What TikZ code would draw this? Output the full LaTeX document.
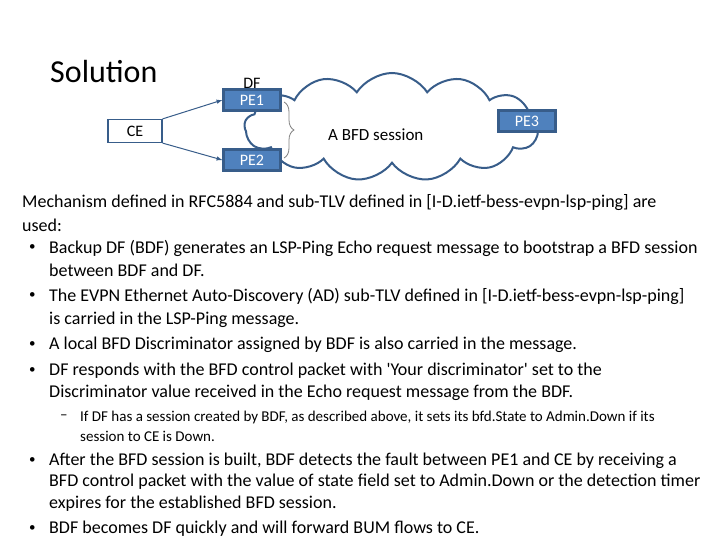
\documentclass[tikz,border=0pt]{standalone}
\usepackage{fontspec}
\setmainfont{Carlito}
\usetikzlibrary{shapes.symbols,decorations.pathreplacing}
\definecolor{pefill}{HTML}{4F81BD}
\definecolor{peline}{HTML}{385D8A}
\begin{document}
\begin{tikzpicture}[x=1pt,y=-1pt,
  pe/.style={draw=peline,line width=2.2pt,fill=pefill,text=white,minimum width=57,minimum height=21,inner sep=0,font=\fontsize{16}{18}\selectfont},
  ln/.style={anchor=west,inner sep=0,font=\fontsize{18}{21}\selectfont},
  bl/.style={anchor=west,inner sep=0,font=\fontsize{13}{15}\selectfont},
  sm/.style={anchor=west,inner sep=0,font=\fontsize{15}{17}\selectfont},
  arr/.style={draw=peline,-latex,line width=1pt}]
\useasboundingbox (0,0) rectangle (720,540);
\node[ln,font=\fontsize{32}{36}\selectfont] (sol) at (50,72) {Solution};
\node[cloud,cloud puffs=13,cloud puff arc=115,aspect=2.9,draw=peline,line width=2pt,fill=white,minimum width=295,minimum height=108] (cloud) at (392,127) {};
\node[pe] (pe1) at (252,100) {PE1};
\node[pe] (pe2) at (252,160) {PE2};
\node[pe] (pe3) at (527,121) {PE3};
\node[draw=peline,line width=1.2pt,minimum width=54,minimum height=23,inner sep=0,font=\fontsize{16}{18}\selectfont] (ce) at (135,131) {CE};
\node[inner sep=0,font=\fontsize{16}{18}\selectfont] (df) at (252,83) {DF};
\draw[arr] (ce.north east) -- (pe1.west);
\draw[arr] (ce.south east) -- (pe2.west);
\coordinate (bt) at (284,102);
\coordinate (bb) at (284,158);
\draw[gray,line width=0.8pt,decorate,decoration={brace,amplitude=10pt}] (bt) -- (bb);
\node[ln,font=\fontsize{17}{20}\selectfont] (bfd) at (328,135) {A BFD session};
\node[ln] (l1) at (22,203) {Mechanism defined in RFC5884 and sub-TLV defined in [I-D.ietf-bess-evpn-lsp-ping] are};
\node[ln] (l2) at (22,225) {used:};
\node[bl] (b1) at (29,248) {•};
\node[ln] (l3) at (49,248) {Backup DF (BDF) generates an LSP-Ping Echo request message to bootstrap a BFD session};
\node[ln] (l4) at (49,270) {between BDF and DF.};
\node[bl] (b2) at (29,296) {•};
\node[ln] (l5) at (49,296) {The EVPN Ethernet Auto-Discovery (AD) sub-TLV defined in [I-D.ietf-bess-evpn-lsp-ping]};
\node[ln] (l6) at (49,320) {is carried in the LSP-Ping message.};
\node[bl] (b3) at (29,345) {•};
\node[ln] (l7) at (49,345) {A local BFD Discriminator assigned by BDF is also carried in the message.};
\node[bl] (b4) at (29,371) {•};
\node[ln] (l8) at (49,371) {DF responds with the BFD control packet with \textquotesingle Your discriminator\textquotesingle{} set to the};
\node[ln] (l9) at (49,393) {Discriminator value received in the Echo request message from the BDF.};
\node[sm] (d1) at (60,417) {–};
\node[sm] (l10) at (80,417) {If DF has a session created by BDF, as described above, it sets its bfd.State to Admin.Down if its};
\node[sm] (l11) at (80,436) {session to CE is Down.};
\node[bl] (b5) at (29,461) {•};
\node[ln] (l12) at (49,461) {After the BFD session is built, BDF detects the fault between PE1 and CE by receiving a};
\node[ln] (l13) at (49,482) {BFD control packet with the value of state field set to Admin.Down or the detection timer};
\node[ln] (l14) at (49,504) {expires for the established BFD session.};
\node[bl] (b6) at (29,529) {•};
\node[ln] (l15) at (49,529) {BDF becomes DF quickly and will forward BUM flows to CE.};
\end{tikzpicture}
\end{document}
